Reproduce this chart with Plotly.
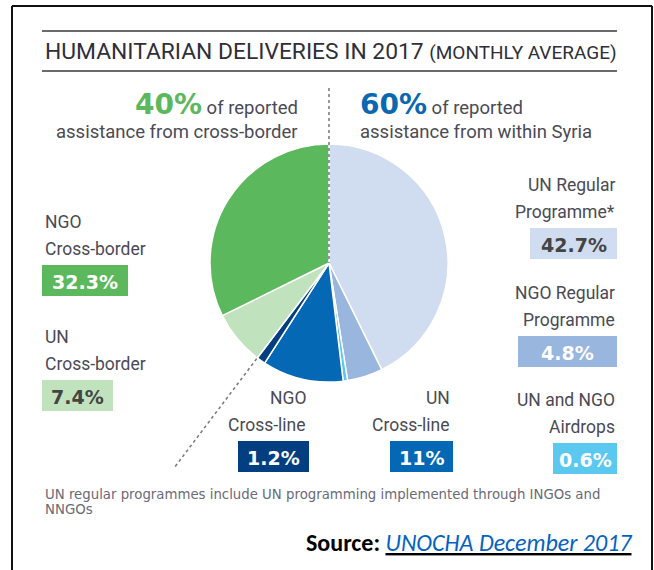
import math
import plotly.graph_objects as go

# Share of reported humanitarian deliveries, 2017 monthly average (clockwise from 12 o'clock)
categories = [
    "UN Regular Programme*",
    "NGO Regular Programme",
    "UN and NGO Airdrops",
    "UN Cross-line",
    "NGO Cross-line",
    "UN Cross-border",
    "NGO Cross-border",
]
shares = [42.7, 4.8, 0.6, 11.0, 1.2, 7.4, 32.3]
share_labels = ["42.7%", "4.8%", "0.6%", "11%", "1.2%", "7.4%", "32.3%"]
colors = ["#d0dcef", "#98b6de", "#5bc8f0", "#0468b4", "#033f80", "#c0e3bd", "#5cb85c"]
label_text_colors = ["#444444", "#ffffff", "#ffffff", "#ffffff", "#ffffff", "#444444", "#ffffff"]

group_shares = ["40%", "60%"]

W, H = 654, 570
CX, CY, R = 329, 263, 119

COND = "Roboto, Liberation Sans Narrow, sans-serif"
GEO = "DejaVu Sans, Lato, sans-serif"
TXT = "#4a4a55"

fig = go.Figure()

fig.add_trace(go.Pie(
    labels=categories,
    values=shares,
    sort=False,
    direction="clockwise",
    rotation=0,
    marker=dict(colors=colors, line=dict(color="white", width=1.5)),
    textinfo="none",
    hoverinfo="label+percent",
    showlegend=False,
    domain=dict(x=[(CX - R) / W, (CX + R) / W], y=[1 - (CY + R) / H, 1 - (CY - R) / H]),
))

shapes = []
annotations = []

# outer frame (open at the bottom)
for x0, y0, x1, y1 in [(12, 6, 652, 6), (12, 6, 12, 570), (652, 6, 652, 570)]:
    shapes.append(dict(type="line", xref="x", yref="y", x0=x0, y0=y0, x1=x1, y1=y1,
                       line=dict(color="#111111", width=2)))

# rules above and below the title
for y in (31, 71):
    shapes.append(dict(type="line", xref="x", yref="y", x0=42, y0=y, x1=617, y1=y,
                       line=dict(color="#6b6b6b", width=2)))

annotations.append(dict(
    x=43, y=51, xref="x", yref="y", xanchor="left", yanchor="middle", showarrow=False,
    text="HUMANITARIAN DELIVERIES IN 2017 <span style='font-size:19px'>(MONTHLY AVERAGE)</span>",
    font=dict(family=COND, size=22.8, color="#2f2f3a"),
))

# dotted divider between cross-border and within-Syria deliveries
shapes.append(dict(type="line", xref="x", yref="y", x0=CX, y0=88, x1=CX, y1=CY,
                   line=dict(color="#777777", width=1.5, dash="dot")))
cum = sum(shares[:5]) / sum(shares) * 2 * math.pi
ux, uy = math.sin(cum), -math.cos(cum)   # screen direction (y grows downward)
shapes.append(dict(type="line", xref="x", yref="y",
                   x0=CX + ux * (R + 1), y0=CY + uy * (R + 1),
                   x1=CX + ux * 258, y1=CY + uy * 258,
                   line=dict(color="#777777", width=1.5, dash="dot")))

# group headings
BIG = "font-family:DejaVu Sans;font-size:28px"
annotations += [
    dict(x=300, y=104, xanchor="right", yanchor="middle",
         text=f"<span style='{BIG};color:#5cb85c'><b>{group_shares[0]}</b></span> of reported"),
    dict(x=300, y=132, xanchor="right", yanchor="middle", text="assistance from cross-border"),
    dict(x=358, y=104, xanchor="left", yanchor="middle",
         text=f"<span style='{BIG};color:#0a68b0'><b>{group_shares[1]}</b></span> of reported"),
    dict(x=358, y=132, xanchor="left", yanchor="middle", text="assistance from within Syria"),
]
for a in annotations[-4:]:
    a.update(xref="x", yref="y", showarrow=False, font=dict(family=COND, size=18.5, color=TXT))

# category callouts: (name lines, anchor x, alignment, first line y, box x0, box x1)
callouts = {
    0: (["UN Regular", "Programme*"], 617, "right", 185, 530, 617),
    1: (["NGO Regular", "Programme"], 617, "right", 293, 518, 617),
    2: (["UN and NGO", "Airdrops"], 617, "right", 400, 553, 617),
    3: (["UN", "Cross-line"], 452, "right", 398, 390, 453),
    4: (["NGO", "Cross-line"], 308, "right", 398, 238, 309),
    5: (["UN", "Cross-border"], 43, "left", 337, 42, 113),
    6: (["NGO", "Cross-border"], 43, "left", 222, 42, 128),
}
for i, (lines, ax, align, y0, bx0, bx1) in callouts.items():
    for k, line in enumerate(lines):
        annotations.append(dict(
            x=ax, y=y0 + 27 * k, xref="x", yref="y", xanchor=align, yanchor="middle",
            showarrow=False, text=line, font=dict(family=COND, size=17.5, color=TXT)))
    by0 = y0 + 43
    by1 = by0 + 31
    shapes.append(dict(type="rect", xref="x", yref="y", x0=bx0, x1=bx1, y0=by0, y1=by1,
                       fillcolor=colors[i], line=dict(width=0), layer="below"))
    annotations.append(dict(
        x=(bx0 + bx1) / 2, y=(by0 + by1) / 2 + 1, xref="x", yref="y",
        xanchor="center", yanchor="middle", showarrow=False,
        text=f"<b>{share_labels[i]}</b>",
        font=dict(family=GEO, size=19, color=label_text_colors[i])))

# footnote and source
NOTE_FONT = dict(family="URW Gothic, Century Gothic, DejaVu Sans, sans-serif", size=13.3, color="#6a6a78")
annotations += [
    dict(x=43, y=494, xanchor="left", yanchor="middle",
         text="UN regular programmes include UN programming implemented through INGOs and",
         font=NOTE_FONT),
    dict(x=43, y=509, xanchor="left", yanchor="middle", text="NNGOs", font=NOTE_FONT),
    dict(x=634, y=542, xanchor="right", yanchor="middle",
         text="<b>Source:</b> <i><u><span style='color:#0563c1'>UNOCHA December 2017</span></u></i>",
         font=dict(family="Carlito, Lato, Open Sans, sans-serif", size=24, color="#000000")),
]
for a in annotations[-3:]:
    a.update(xref="x", yref="y", showarrow=False)

fig.update_layout(
    width=W, height=H,
    margin=dict(l=0, r=0, t=0, b=0),
    paper_bgcolor="white", plot_bgcolor="rgba(0,0,0,0)",
    xaxis=dict(range=[0, W], visible=False, fixedrange=True, domain=[0, 1]),
    yaxis=dict(range=[H, 0], visible=False, fixedrange=True, domain=[0, 1]),
    shapes=shapes,
    annotations=annotations,
)

fig.write_html("out.html", config=dict(displayModeBar=False))
